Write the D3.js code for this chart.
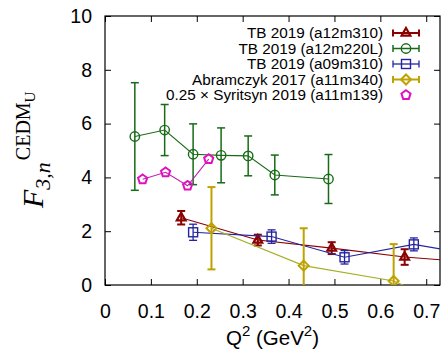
<!DOCTYPE html>
<html>
<head>
<meta charset="utf-8">
<script src="https://cdn.jsdelivr.net/npm/d3@7"></script>
<style>
  body { margin: 0; background: #fff; }
  svg { display: block; }
  text { font-family: "Liberation Sans", Arial, sans-serif; fill: #000; }
</style>
</head>
<body>
<svg width="445" height="351"></svg>
<script>
// x ticks / y ticks
const xTicks = [0, 0.1, 0.2, 0.3, 0.4, 0.5, 0.6, 0.7];
const yTicks = [0, 2, 4, 6, 8, 10];

// TB 2019 (a12m310)
const qA12m310 = [0.166, 0.333, 0.494, 0.653, 0.80];
const fA12m310 = [2.50, 1.67, 1.37, 1.04, 0.85];
const eA12m310 = [0.25, 0.20, 0.22, 0.29, 0.20];

// TB 2019 (a12m220L)
const qA12m220L = [0.065, 0.130, 0.192, 0.253, 0.312, 0.370, 0.487];
const fA12m220L = [5.52, 5.76, 4.86, 4.82, 4.80, 4.09, 3.94];
const eA12m220L = [2.00, 0.95, 1.13, 1.02, 0.74, 0.74, 0.91];

// TB 2019 (a09m310)
const qA09m310 = [0.192, 0.363, 0.522, 0.673, 0.80];
const fA09m310 = [1.96, 1.80, 1.03, 1.51, 1.14];
const eA09m310 = [0.30, 0.25, 0.25, 0.24, 0.20];

// Abramczyk 2017 (a11m340)
const qAbram = [0.232, 0.433, 0.629, 0.80];
const fAbram = [2.11, 0.72, 0.15, -1.13];
const eAbram = [1.53, 1.39, 1.37, 1.30];

// 0.25 x Syritsyn 2019 (a11m139)
const qSyr = [0.082, 0.132, 0.180, 0.226];
const fSyr = [3.93, 4.19, 3.69, 4.68];

const series = [
  {label: "TB 2019 (a12m310)", q: qA12m310, f: fA12m310, e: eA12m310, color: "#8b0000", lineColor: "#8b0000", shape: "tri", ebw: 2},
  {label: "TB 2019 (a12m220L)", q: qA12m220L, f: fA12m220L, e: eA12m220L, color: "#176b17", lineColor: "#176b17", shape: "circle", ebw: 1.5},
  {label: "TB 2019 (a09m310)", q: qA09m310, f: fA09m310, e: eA09m310, color: "#2424a0", lineColor: "#2424a0", shape: "square", ebw: 1.3},
  {label: "Abramczyk 2017 (a11m340)", q: qAbram, f: fAbram, e: eAbram, color: "#bfa200", lineColor: "#a4b025", shape: "diamond", ebw: 2},
  {label: "0.25 \u00d7 Syritsyn 2019 (a11m139)", q: qSyr, f: fSyr, e: null, color: "#e010c0", lineColor: "#c020b0", shape: "pent", ebw: 1}
];

const svg = d3.select("svg");
const mLeft = 105, mRight = 440, mTop = 16, mBottom = 285;

const x = d3.scaleLinear().domain([0, 0.73]).range([mLeft, mRight]);
const y = d3.scaleLinear().domain([0, 10]).range([mBottom, mTop]);

svg.append("clipPath").attr("id", "clip")
  .append("rect").attr("x", mLeft).attr("y", mTop).attr("width", mRight - mLeft).attr("height", mBottom - mTop);

// axes, ticks inside, mirrored
const tl = 6;
svg.append("g").attr("transform", `translate(0,${mBottom})`)
  .call(d3.axisBottom(x).tickValues(xTicks).tickSizeInner(-tl).tickSizeOuter(0).tickPadding(19).tickFormat(d3.format("")));
svg.append("g").attr("transform", `translate(0,${mTop})`)
  .call(d3.axisTop(x).tickValues(xTicks).tickSizeInner(-tl).tickSizeOuter(0).tickFormat(""));
svg.append("g").attr("transform", `translate(${mLeft},0)`)
  .call(d3.axisLeft(y).tickValues(yTicks).tickSizeInner(-tl).tickSizeOuter(0).tickPadding(13));
svg.append("g").attr("transform", `translate(${mRight},0)`)
  .call(d3.axisRight(y).tickValues(yTicks).tickSizeInner(-tl).tickSizeOuter(0).tickFormat(""));
svg.selectAll(".domain").remove();
svg.selectAll(".tick line").attr("stroke", "#000").attr("stroke-width", 1);
svg.selectAll(".tick text").style("font-size", "19.5px").attr("fill", "#000");
svg.append("rect").attr("x", mLeft).attr("y", mTop).attr("width", mRight - mLeft).attr("height", mBottom - mTop)
  .attr("fill", "none").attr("stroke", "#000").attr("stroke-width", 1.2);

// markers
function marker(g, shape, cx, cy, color) {
  const sw = 1.4;
  if (shape === "circle") {
    g.append("circle").attr("cx", cx).attr("cy", cy).attr("r", 4.7)
      .attr("fill", "none").attr("stroke", color).attr("stroke-width", sw);
  } else if (shape === "square") {
    g.append("rect").attr("x", cx - 4.5).attr("y", cy - 4.5).attr("width", 9).attr("height", 9)
      .attr("fill", "none").attr("stroke", color).attr("stroke-width", sw);
  } else if (shape === "tri") {
    g.append("path").attr("d", d3.symbol(d3.symbolTriangle2, 55)())
      .attr("transform", `translate(${cx},${cy})`)
      .attr("fill", "none").attr("stroke", color).attr("stroke-width", 2.2);
  } else if (shape === "diamond") {
    g.append("path").attr("d", `M${cx},${cy - 5}L${cx + 5},${cy}L${cx},${cy + 5}L${cx - 5},${cy}Z`)
      .attr("fill", "none").attr("stroke", color).attr("stroke-width", 2);
  } else if (shape === "pent") {
    const pts = d3.range(5).map(i => {
      const a = -Math.PI / 2 + i * 2 * Math.PI / 5;
      return [cx + 4.8 * Math.cos(a), cy + 4.8 * Math.sin(a)];
    });
    g.append("path").attr("d", d3.line()(pts) + "Z")
      .attr("fill", "none").attr("stroke", color).attr("stroke-width", 2);
  }
}

const plot = svg.append("g").attr("clip-path", "url(#clip)");
const line = d3.line().x(d => x(d[0])).y(d => y(d[1]));
const cap = 4;

series.forEach(s => {
  const pts = s.q.map((q, i) => [q, s.f[i], s.e ? s.e[i] : 0]);
  plot.append("path").attr("d", line(pts))
    .attr("fill", "none").attr("stroke", s.lineColor).attr("stroke-width", 1.1);
  const g = plot.append("g");
  if (s.e) {
    pts.forEach(p => {
      const px = x(p[0]), y1 = y(p[1] + p[2]), y0 = y(p[1] - p[2]);
      g.append("line").attr("x1", px).attr("x2", px).attr("y1", y1).attr("y2", y0)
        .attr("stroke", s.color).attr("stroke-width", s.ebw);
      [y1, y0].forEach(yy => g.append("line").attr("x1", px - cap).attr("x2", px + cap)
        .attr("y1", yy).attr("y2", yy).attr("stroke", s.color).attr("stroke-width", s.ebw));
    });
  }
  pts.forEach(p => marker(g, s.shape, x(p[0]), y(p[1]), s.color));
});

// legend
const legend = svg.append("g");
series.forEach((s, i) => {
  const ly = 33 + i * 15.5;
  legend.append("text").attr("x", 383).attr("y", ly).attr("dy", "0.35em")
    .attr("text-anchor", "end").style("font-size", "15.3px").text(s.label);
  if (s.e) {
    legend.append("line").attr("x1", 393).attr("x2", 419).attr("y1", ly).attr("y2", ly)
      .attr("stroke", s.color).attr("stroke-width", s.ebw);
    [393, 419].forEach(xx => legend.append("line").attr("x1", xx).attr("x2", xx)
      .attr("y1", ly - 3.5).attr("y2", ly + 3.5).attr("stroke", s.color).attr("stroke-width", s.ebw));
  }
  marker(legend, s.shape, 406, ly, s.color);
});

// x axis title
const xt = svg.append("text").attr("x", (mLeft + mRight) / 2).attr("y", 345)
  .attr("text-anchor", "middle").style("font-size", "20.5px");
xt.append("tspan").text("Q");
xt.append("tspan").attr("dy", -9).style("font-size", "15px").text("2");
xt.append("tspan").attr("dy", 9).text(" (GeV");
xt.append("tspan").attr("dy", -9).style("font-size", "15px").text("2");
xt.append("tspan").attr("dy", 9).text(")");

// y axis title: F_{3,n}^{CEDM_U}
const yt = svg.append("text").attr("transform", "translate(43,208) rotate(-90)")
  .style("font-family", "'Liberation Serif', 'Times New Roman', serif").style("font-size", "30px");
yt.append("tspan").style("font-style", "italic").text("F");
yt.append("tspan").attr("dy", 7).attr("dx", 0).style("font-style", "italic").style("font-size", "22px").text("3,n");
yt.append("tspan").attr("dy", -20).attr("dx", 2).style("font-size", "20px").text("CEDM");
yt.append("tspan").attr("dy", 5).style("font-size", "15px").text("U");
</script>
</body>
</html>
